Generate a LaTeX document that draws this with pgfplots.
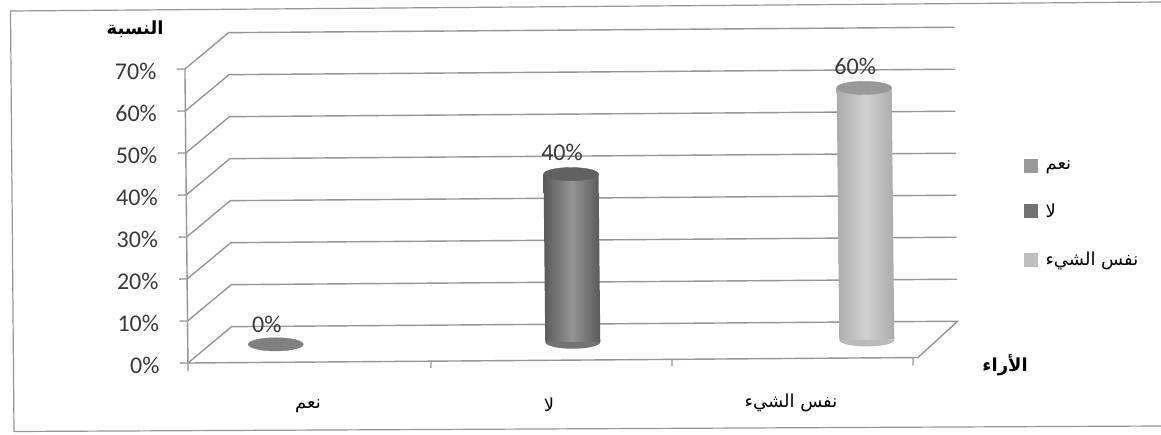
\documentclass[border=0pt]{standalone}
\usepackage{fontspec}
\usepackage{pgfplots}
\usepackage{pgfplotstable}
\pgfplotsset{compat=1.18}
\setmainfont{Carlito}
\TeXXeTstate=1
\newfontfamily\arabicfont[Script=Arabic]{DejaVu Sans}
\definecolor{gridgrey}{HTML}{969696}
\definecolor{labelgrey}{HTML}{3A3A3A}
% lower half of a cylinder's base disc
\pgfdeclareplotmark{basearc}{%
  \pgfpathmoveto{\pgfqpoint{-27.5pt}{0pt}}%
  \pgfpatharc{180}{360}{27.5pt and 6.6pt}%
  \pgfpathclose
  \pgfusepathqfill}
\pgfplotstableread{
x v
275 0
}\seriesYes
\pgfplotstableread{
x v
572 40
}\seriesNo
\pgfplotstableread{
x v
866 60
}\seriesSame
\pgfplotsset{
  wall/.style={gridgrey, line width=1.4pt, forget plot},
  cap/.style={only marks, forget plot, color=#1, mark=*, mark size=27.5pt, mark options={fill=#1, yscale=0.24}},
  base/.style={only marks, forget plot, color=#1, mark=basearc, mark options={fill=#1}},
  valuelabel/.style={nodes near coords={\pgfmathprintnumber{\pgfplotspointmeta}\%},
    nodes near coords style={anchor=center, xshift=-9pt, yshift=#1, font=\fontsize{24}{28}\selectfont, text=labelgrey}},
}
\begin{document}
\begin{tikzpicture}[x=1pt,y=1pt]
\path[use as bounding box, fill=white] (0,0) rectangle (1161,434);
\draw[gridgrey, line width=1.2pt] (1161,432) -- (10.5,423) -- (14,2.5) -- (1161,8);
\begin{axis}[
  at={(184.5pt,71pt)}, anchor=south west,
  x={(1pt,0.0075pt)}, y={(-0.043pt,4.2pt)},
  xmin=187, xmax=960, ymin=-4.2857, ymax=76,
  clip=false,
  /pgf/number format/assume math mode=true,
  axis line style={draw=none},
  xtick=\empty,
  extra x ticks={307,548,790},
  extra x tick labels={{\arabicfont\beginR نعم\endR},{\arabicfont\beginR لا\endR},{\arabicfont\beginR نفس الشيء\endR}},
  extra x tick style={major tick length=0pt, tick label style={font=\fontsize{18}{21}\selectfont, text=black, yshift=-44pt, anchor=center}},
  ytick pos=left,
  tick align=outside,
  ytick={-4.2857,5.7143,15.7143,25.7143,35.7143,45.7143,55.7143,65.7143},
  yticklabels={0\%,10\%,20\%,30\%,40\%,50\%,60\%,70\%},
  yticklabel style={font=\fontsize{24}{28}\selectfont, text=labelgrey, yshift=-2pt, xshift=-17pt},
  tick style={gridgrey, line width=1.4pt},
  major tick length=8pt,
  legend style={draw=none, fill=none, at={(axis cs:1025,43)}, anchor=north west,
    font=\fontsize{18}{21}\selectfont, row sep=29pt, inner sep=0pt},
  legend cell align=left,
]
% floor and back wall
\addplot[wall] coordinates {(187,-4.2857)(917,-4.2857)(957,4.2857)(231,4.2857)(187,-4.2857)};
\addplot[wall] coordinates {(187,-6.2)(187,65.7143)};
\addplot[wall] coordinates {(187,5.7143)(231,14.2857)(957,14.2857)};
\addplot[wall] coordinates {(187,15.7143)(231,24.2857)(957,24.2857)};
\addplot[wall] coordinates {(187,25.7143)(231,34.2857)(957,34.2857)};
\addplot[wall] coordinates {(187,35.7143)(231,44.2857)(957,44.2857)};
\addplot[wall] coordinates {(187,45.7143)(231,54.2857)(957,54.2857)};
\addplot[wall] coordinates {(187,55.7143)(231,64.2857)(957,64.2857)};
\addplot[wall] coordinates {(187,65.7143)(231,74.2857)(957,74.2857)};
% category ticks along the front edge of the floor
\addplot[wall] coordinates {(430,-4.2857)(430,-5.9)};
\addplot[wall] coordinates {(671,-4.2857)(671,-5.9)};
\addplot[wall] coordinates {(912,-4.2857)(912,-6.2)};
% cylinders: base, body, top disc with its value
\addplot[base=black!55] table[x=x, y expr=0] {\seriesNo};
\addplot[base=black!27] table[x=x, y expr=0] {\seriesSame};
\addplot[forget plot, draw=none, shading=axis, left color=black!65, right color=black!65, middle color=black!42]
  coordinates {(544.5,0)(544.5,40)(599.5,40)(599.5,0)} -- cycle;
\addplot[forget plot, draw=none, shading=axis, left color=black!33, right color=black!33, middle color=black!18]
  coordinates {(838.5,0)(838.5,60)(893.5,60)(893.5,0)} -- cycle;
\addplot[cap=black!50, valuelabel=20pt] table[x=x, y=v] {\seriesYes};
\addplot[cap=black!62, valuelabel=22pt] table[x=x, y=v] {\seriesNo};
\addplot[cap=black!40, valuelabel=21pt] table[x=x, y=v] {\seriesSame};
% legend keys, square swatch to the left of each label
\addlegendimage{legend image code/.code={\fill[black!40] (0cm,-6.5pt) rectangle (13pt,6.5pt);}}
\addlegendimage{legend image code/.code={\fill[black!55] (0cm,-6.5pt) rectangle (13pt,6.5pt);}}
\addlegendimage{legend image code/.code={\fill[black!25] (0cm,-6.5pt) rectangle (13pt,6.5pt);}}
\addlegendentry{\hspace*{6pt}{\arabicfont\beginR نعم\endR}}
\addlegendentry{\hspace*{6pt}{\arabicfont\beginR لا\endR}}
\addlegendentry{\hspace*{6pt}{\arabicfont\beginR نفس الشيء\endR}}
% axis names
\node[font=\bfseries\fontsize{18}{21}\selectfont, text=black] at (axis cs:137.5,75.3) {\arabicfont\beginR النسبة\endR};
\node[font=\bfseries\fontsize{18}{21}\selectfont, text=black] at (axis cs:1004,-6.3) {\arabicfont\beginR الأراء\endR};
\end{axis}
\end{tikzpicture}
\end{document}
